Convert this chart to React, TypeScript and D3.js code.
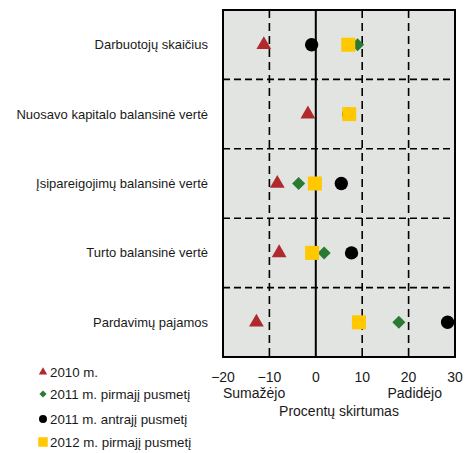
import * as d3 from "d3";

const categories = [
  "Darbuotojų skaičius",
  "Nuosavo kapitalo balansinė vertė",
  "Įsipareigojimų balansinė vertė",
  "Turto balansinė vertė",
  "Pardavimų pajamos",
];

const series2010 = [-11.2, -1.7, -8.3, -7.9, -12.8];
const series2011h1 = [9.0, 7.2, -3.7, 1.8, 17.9];
const series2011h2 = [-0.9, 7.1, 5.5, 7.7, 28.4];
const series2012h1 = [7.0, 7.2, -0.2, -0.8, 9.3];

const seriesNames = [
  "2010 m.",
  "2011 m. pirmajį pusmetį",
  "2011 m. antrajį pusmetį",
  "2012 m. pirmajį pusmetį",
];

const xTicks = [-20, -10, 0, 10, 20, 30];

const RED = "#B0292D";
const GREEN = "#2A7A33";
const BLACK = "#000000";
const YELLOW = "#FFC800";
const BG = "#E1E4E1";
const FONT = "'Liberation Sans', Arial, sans-serif";

// diamond = square turned 45 degrees
const series = [
  { name: seriesNames[0], values: series2010, shape: d3.symbolTriangle, rot: 0, color: RED, size: 95, legendSize: 30 },
  { name: seriesNames[1], values: series2011h1, shape: d3.symbolSquare, rot: 45, color: GREEN, size: 85, legendSize: 26 },
  { name: seriesNames[2], values: series2011h2, shape: d3.symbolCircle, rot: 0, color: BLACK, size: 140, legendSize: 50 },
  { name: seriesNames[3], values: series2012h1, shape: d3.symbolSquare, rot: 0, color: YELLOW, size: 196, legendSize: 90 },
];

export default function App() {
  const left = 223, right = 455, top = 10, bottom = 357;
  const x = d3.scaleLinear().domain([-20, 30]).range([left, right]);
  const y = d3.scaleBand().domain(categories).range([top, bottom]).padding(0);
  const bw = y.bandwidth();

  return (
    <svg width={474} height={453} style={{ position: "absolute", left: 0, top: 0 }} fontFamily={FONT}>
      <rect x={left} y={top} width={right - left} height={bottom - top} fill={BG} />
      {categories.slice(1).map((c) => (
        <line key={c} x1={left} x2={right} y1={y(c)} y2={y(c)} stroke="#000" strokeWidth={1.6} strokeDasharray="7,4" />
      ))}
      {xTicks.filter((t) => t !== 0 && t !== -20 && t !== 30).map((t) => (
        <line key={t} x1={x(t)} x2={x(t)} y1={top} y2={bottom} stroke="#000" strokeWidth={1.6} strokeDasharray="8,5" />
      ))}
      <line x1={x(0)} x2={x(0)} y1={top} y2={bottom} stroke="#000" strokeWidth={2} />
      {series.map((s) =>
        s.values.map((v, i) => (
          <path
            key={s.name + i}
            d={d3.symbol().type(s.shape).size(s.size)() || undefined}
            transform={`translate(${x(v)},${(y(categories[i]) as number) + bw / 2}) rotate(${s.rot})`}
            fill={s.color}
          />
        ))
      )}
      <rect x={left} y={top} width={right - left} height={bottom - top} fill="none" stroke="#000" strokeWidth={2} />
      {categories.map((c) => (
        <text key={c} x={208} y={(y(c) as number) + bw / 2} dy="0.35em" textAnchor="end" fontSize={13} fill="#1a1a1a">
          {c}
        </text>
      ))}
      {xTicks.map((t) => (
        <text key={t} x={x(t)} y={382} textAnchor="middle" fontSize={14} fill="#1a1a1a">
          {t < 0 ? "\u2212" + Math.abs(t) : t}
        </text>
      ))}
      <text x={223} y={398} fontSize={14} fill="#1a1a1a">Sumažėjo</text>
      <text x={442} y={398} textAnchor="end" fontSize={14} fill="#1a1a1a">Padidėjo</text>
      <text x={339} y={416} textAnchor="middle" fontSize={14} fill="#1a1a1a">Procentų skirtumas</text>
      {series.map((s, i) => {
        const ly = [372, 394, 419, 442][i];
        return (
          <g key={s.name}>
            <path
              d={d3.symbol().type(s.shape).size(s.legendSize)() || undefined}
              transform={`translate(43,${ly}) rotate(${s.rot})`}
              fill={s.color}
            />
            <text x={50} y={ly} dy="0.35em" fontSize={13.3} fill="#1a1a1a">{s.name}</text>
          </g>
        );
      })}
    </svg>
  );
}
